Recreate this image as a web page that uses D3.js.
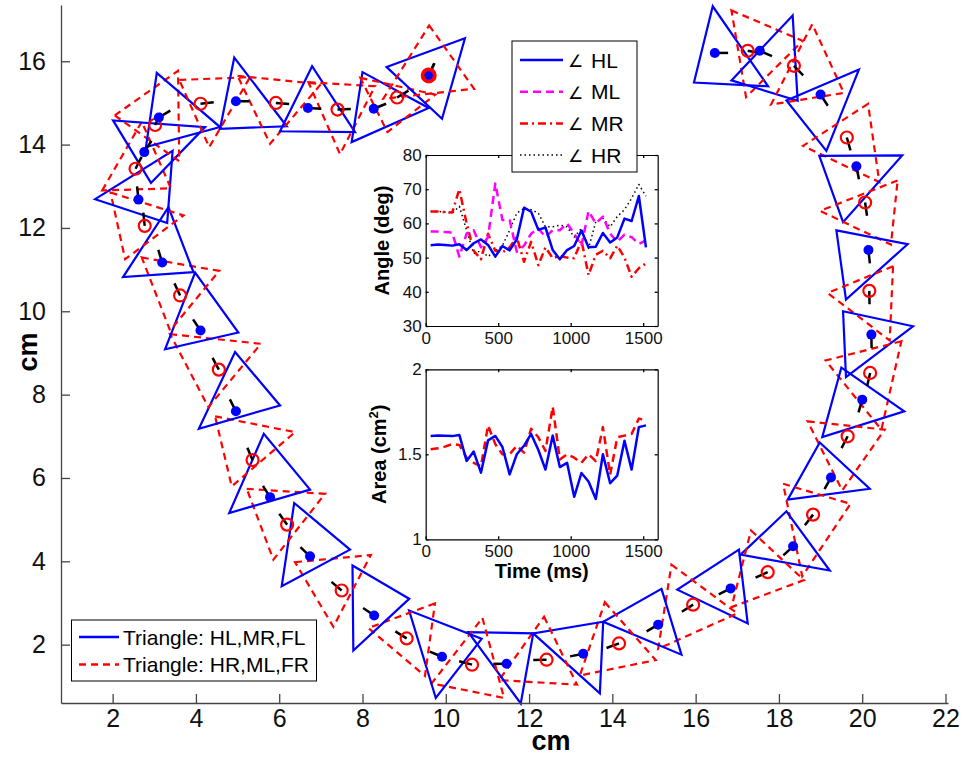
<!DOCTYPE html>
<html><head><meta charset="utf-8">
<script src="https://cdn.jsdelivr.net/npm/d3@7"></script>
<style>
body{margin:0;background:#fff;}
svg{display:block;font-family:"Liberation Sans",Arial,Helvetica,sans-serif;}
</style></head><body>
<svg id="chart" width="966" height="757"></svg>
<script>
// ---------------- DATA ----------------
// Triangle HL,MR,FL (blue) vertices, cm
const blueTriangles = [
 [[16.41,17.32],[15.96,15.49],[17.74,15.40]],
 [[18.33,17.10],[16.86,15.54],[18.45,15.05]],
 [[18.18,15.06],[19.92,15.80],[19.14,13.85]],
 [[18.97,13.73],[20.96,13.74],[19.54,12.14]],
 [[19.38,11.94],[21.09,11.61],[19.61,10.28]],
 [[19.54,10.00],[21.22,9.64],[19.61,8.42]],
 [[19.50,8.65],[21.01,7.60],[19.04,6.98]],
 [[18.98,6.85],[20.18,5.74],[18.21,5.48]],
 [[18.18,5.20],[19.22,3.78],[17.08,4.16]],
 [[17.04,4.28],[17.25,2.51],[15.56,3.32]],
 [[15.18,3.34],[15.66,1.76],[13.78,2.55]],
 [[13.78,2.55],[13.70,0.83],[12.10,2.27]],
 [[12.10,2.27],[11.80,0.59],[10.54,2.30]],
 [[10.86,2.14],[9.76,0.72],[9.12,2.82]],
 [[9.12,3.10],[7.78,1.86],[7.76,3.90]],
 [[7.70,4.28],[6.06,3.40],[6.36,5.40]],
 [[6.74,5.72],[4.80,5.16],[5.63,7.06]],
 [[6.02,7.74],[4.07,7.18],[4.94,9.02]],
 [[5.02,9.49],[3.26,9.09],[3.98,10.93]],
 [[3.94,10.94],[2.25,10.82],[3.34,12.50]],
 [[3.31,12.12],[1.58,12.69],[3.44,13.85]],
 [[2.92,13.08],[2.01,14.58],[4.22,14.42]],
 [[2.80,13.94],[3.06,15.72],[4.58,14.42]],
 [[4.58,14.38],[4.92,16.09],[6.18,14.44]],
 [[6.02,14.32],[6.79,15.88],[7.82,14.30]],
 [[7.74,14.06],[8.00,15.74],[9.59,14.88]],
 [[8.58,15.86],[10.46,16.55],[9.91,14.62]]
];
// Triangle HR,ML,FR (red dashed) vertices, cm
const redTriangles = [
 [[16.86,17.22],[18.57,16.49],[17.21,15.14]],
 [[18.80,16.89],[17.81,14.96],[19.56,15.24]],
 [[20.14,14.98],[18.58,13.97],[20.41,13.10]],
 [[20.85,13.14],[18.99,12.41],[20.69,11.60]],
 [[20.74,11.08],[19.17,10.44],[20.66,9.30]],
 [[20.94,9.28],[19.12,8.82],[20.46,7.16]],
 [[18.69,7.36],[20.54,7.16],[19.52,5.70]],
 [[18.10,5.86],[19.72,5.38],[18.56,3.64]],
 [[17.33,4.74],[18.60,3.55],[16.86,2.90]],
 [[15.42,3.92],[17.00,2.75],[15.10,1.90]],
 [[13.82,3.02],[15.04,1.63],[13.22,1.26]],
 [[12.36,2.67],[13.15,1.04],[11.28,1.15]],
 [[10.88,2.64],[11.40,0.72],[9.66,1.07]],
 [[9.74,2.99],[8.14,2.40],[9.50,1.25]],
 [[6.38,3.98],[8.20,4.15],[7.30,2.43]],
 [[5.22,5.74],[7.10,5.62],[5.86,4.04]],
 [[4.46,7.48],[6.38,7.10],[4.86,5.80]],
 [[3.38,9.45],[5.56,9.22],[4.30,7.70]],
 [[2.70,11.29],[4.56,10.97],[3.38,9.54]],
 [[1.95,12.85],[3.70,12.30],[2.30,11.25]],
 [[1.75,12.90],[2.70,14.55],[3.40,12.95]],
 [[2.05,14.70],[3.57,15.77],[3.60,13.60]],
 [[3.60,15.55],[5.30,15.62],[4.32,13.94]],
 [[5.00,15.65],[7.00,15.45],[5.78,14.02]],
 [[6.70,15.50],[8.30,15.40],[7.46,13.77]],
 [[7.95,15.60],[9.75,15.20],[8.60,14.30]],
 [[9.60,16.86],[10.68,15.34],[8.50,15.10]]
];
const blueCentroids = [[16.46,16.20],[17.54,16.25],[19.00,15.20],[19.86,13.48],[20.15,11.47],[20.22,9.44],[20.00,7.88],[19.25,6.01],[18.34,4.36],[16.84,3.35],[15.10,2.48],[13.30,1.78],[11.46,1.54],[9.91,1.71],[8.28,2.70],[6.74,4.12],[5.78,5.54],[4.96,7.60],[4.11,9.54],[3.19,11.17],[2.62,12.68],[2.76,13.82],[3.11,14.65],[4.96,15.04],[6.69,14.88],[8.27,14.86],[9.59,15.66]];
const blueHeadings = [0,-23,-57,-79,-84,-89,-106,-119,-137,-153,-150,-169,180,157,146,136,122,117,124,107,96,58,31,0,-3,22,65];
const redCentroids = [[17.25,16.25],[18.36,15.89],[19.63,14.17],[20.07,12.61],[20.17,10.49],[20.19,8.52],[19.65,7.00],[18.82,5.12],[17.73,3.74],[15.94,2.96],[14.16,2.03],[12.42,1.64],[10.63,1.52],[9.06,2.15],[7.50,3.30],[6.19,4.88],[5.36,6.43],[4.55,8.60],[3.62,10.38],[2.77,12.05],[2.55,13.42],[3.02,14.47],[4.11,14.98],[5.92,15.00],[7.40,14.84],[8.83,15.13],[9.59,15.66]];
const redHeadings = [-10,-46,-74,-82,-89,-103,-117,-128,-156,-148,-160,-179,165,148,140,126,113,118,115,96,63,64,7,-5,3,31,65];

// Inset series
const timesMs = [34,84,133,183,232,282,331,381,430,480,529,579,628,678,727,777,826,876,925,975,1024,1074,1123,1173,1222,1272,1321,1371,1420,1470,1519];
const angleHL = [53.6,53.8,53.7,53.5,53.9,52.2,54.2,55.3,53.7,50.3,53.4,52.1,55.3,64.6,63.4,58.1,58.8,52.2,49.5,52.2,53.4,57.9,53.0,53.2,57.2,54.4,55.9,61.4,60.7,68.0,53.0];
const angleML = [57.6,57.6,57.5,57.3,50.3,57.0,58.0,53.0,56.0,71.7,61.0,61.0,51.7,53.5,57.0,58.5,56.0,58.0,58.0,60.0,57.0,53.5,63.6,60.0,62.0,57.0,54.6,56.7,56.0,54.0,55.0];
const angleMR = [63.5,63.5,63.3,63.2,70.0,60.0,52.0,49.5,57.0,52.0,51.5,53.0,56.0,48.8,54.6,47.8,53.0,49.8,50.5,50.0,49.8,55.0,44.9,50.8,52.0,49.8,53.5,50.0,44.4,46.9,48.3];
const angleHR = [63.5,63.5,63.3,63.0,65.0,58.0,51.2,52.0,50.3,52.0,53.5,58.0,63.0,64.4,64.0,63.0,59.0,59.0,59.5,59.0,56.0,58.5,52.7,60.5,61.5,59.0,62.0,64.0,67.3,71.4,68.0];
const areaBlue = [1.608,1.610,1.609,1.607,1.614,1.461,1.516,1.392,1.582,1.608,1.543,1.382,1.500,1.550,1.620,1.525,1.410,1.610,1.425,1.450,1.250,1.390,1.340,1.237,1.500,1.330,1.375,1.580,1.410,1.660,1.670];
const areaRed = [1.530,1.535,1.545,1.560,1.555,1.480,1.450,1.430,1.670,1.560,1.500,1.500,1.550,1.510,1.650,1.600,1.520,1.780,1.470,1.500,1.480,1.450,1.500,1.460,1.660,1.380,1.600,1.610,1.620,1.710,1.700];

// Tick labels
const mainXTicks = [2,4,6,8,10,12,14,16,18,20,22];
const mainYTicks = [2,4,6,8,10,12,14,16];
const timeTicks = [0,500,1000,1500];
const angleTicks = [30,40,50,60,70,80];
const areaTicks = [1,1.5,2];

// ---------------- DRAW ----------------
const FONT = '"Liberation Sans",Arial,Helvetica,sans-serif';
const svg = d3.select("#chart");
svg.append("rect").attr("width",966).attr("height",757).attr("fill","#fff");

const x = d3.scaleLinear().domain([0.76,22.06]).range([61,948]);
const y = d3.scaleLinear().domain([0.6,17.35]).range([703,5]);
const triLine = d3.line().x(d=>x(d[0])).y(d=>y(d[1])).curve(d3.curveLinearClosed);

const gTri = svg.append("g");
blueTriangles.forEach((t,i)=>{
  gTri.append("path").attr("d",triLine(t)).attr("fill","none")
    .attr("stroke","#0000ff").attr("stroke-width",2.2).attr("stroke-linejoin","miter");
  gTri.append("path").attr("d",triLine(redTriangles[i])).attr("fill","none")
    .attr("stroke","#ff0000").attr("stroke-width",2.2).attr("stroke-dasharray","7,5");
});

const HEAD_LEN = 0.32;
const gHead = svg.append("g");
function heading(c,deg){
  const r = deg*Math.PI/180;
  gHead.append("line").attr("x1",x(c[0])).attr("y1",y(c[1]))
    .attr("x2",x(c[0]+HEAD_LEN*Math.cos(r))).attr("y2",y(c[1]+HEAD_LEN*Math.sin(r)))
    .attr("stroke","#000").attr("stroke-width",2.5);
}
blueCentroids.forEach((c,i)=>heading(c,blueHeadings[i]));
redCentroids.forEach((c,i)=>heading(c,redHeadings[i]));

const last = redCentroids.length-1;
svg.append("g").selectAll("circle").data(redCentroids).join("circle")
  .attr("cx",d=>x(d[0])).attr("cy",d=>y(d[1]))
  .attr("r",(d,i)=>i===last?6.5:6)
  .attr("fill",(d,i)=>i===last?"#ff0000":"none")
  .attr("stroke","#ff0000").attr("stroke-width",(d,i)=>i===last?3:2.2);
svg.append("g").selectAll("circle").data(blueCentroids).join("circle")
  .attr("cx",d=>x(d[0])).attr("cy",d=>y(d[1]))
  .attr("r",(d,i)=>i===blueCentroids.length-1?4.2:5)
  .attr("fill","#0000ff");

// main axes
function styleAxis(g,size,col){
  g.attr("font-family",FONT).attr("font-size",size);
  g.select(".domain").attr("stroke",col).attr("stroke-width",1.3);
  g.selectAll(".tick line").attr("stroke",col).attr("stroke-width",1.3);
  g.selectAll(".tick text").attr("fill","#111");
}
svg.append("g").attr("transform","translate(0,703)")
  .call(d3.axisBottom(x).tickValues(mainXTicks).tickSizeInner(-9).tickSizeOuter(0).tickPadding(6))
  .call(g=>styleAxis(g,25,"#444"));
svg.append("g").attr("transform","translate(61,0)")
  .call(d3.axisLeft(y).tickValues(mainYTicks).tickSizeInner(-9).tickSizeOuter(0).tickPadding(15))
  .call(g=>styleAxis(g,25,"#444"));
svg.append("text").attr("x",551).attr("y",750).attr("text-anchor","middle")
  .attr("font-family",FONT).attr("font-size",27).attr("font-weight","bold").text("cm");
svg.append("text").attr("transform","translate(37,352) rotate(-90)").attr("text-anchor","middle")
  .attr("font-family",FONT).attr("font-size",27).attr("font-weight","bold").text("cm");

// main legend
const lg2 = svg.append("g");
lg2.append("rect").attr("x",71.5).attr("y",620).attr("width",245).attr("height",61)
  .attr("fill","#fff").attr("stroke","#000").attr("stroke-width",1);
[["Triangle: HL,MR,FL","#0000ff",null],["Triangle: HR,ML,FR","#ff0000","7,5"]].forEach((e,i)=>{
  const yy = 637+i*27.5;
  lg2.append("line").attr("x1",79).attr("x2",119).attr("y1",yy).attr("y2",yy)
    .attr("stroke",e[1]).attr("stroke-width",2.5).attr("stroke-dasharray",e[2]);
  lg2.append("text").attr("x",123).attr("y",yy+7.5).attr("font-family",FONT).attr("font-size",21).text(e[0]);
});

// insets
const tx = d3.scaleLinear().domain([0,1600]).range([425.7,657.7]);
function inset(top,bottom,ydom,yticks,series,ylabelParts,ylabX){
  const ys = d3.scaleLinear().domain(ydom).range([bottom,top]);
  const g = svg.append("g");
  g.append("rect").attr("x",425.7).attr("y",top).attr("width",232).attr("height",bottom-top).attr("fill","#fff");
  const ln = d3.line().x((d,i)=>tx(timesMs[i])).y(d=>ys(d));
  series.forEach(s=>{
    g.append("path").attr("d",ln(s.v)).attr("fill","none").attr("stroke",s.c)
      .attr("stroke-width",s.w).attr("stroke-dasharray",s.dash).attr("stroke-linejoin","round");
  });
  g.append("g").attr("transform",`translate(0,${bottom})`)
    .call(d3.axisBottom(tx).tickValues(timeTicks).tickSizeInner(-3).tickSizeOuter(0).tickPadding(6).tickFormat(d3.format("d")))
    .call(a=>styleAxis(a,17,"#000"));
  g.append("g").attr("transform",`translate(0,${top})`)
    .call(d3.axisTop(tx).tickValues(timeTicks).tickSizeInner(-3).tickSizeOuter(0).tickFormat(""))
    .call(a=>styleAxis(a,17,"#000"));
  g.append("g").attr("transform","translate(425.7,0)")
    .call(d3.axisLeft(ys).tickValues(yticks).tickSizeInner(-3).tickSizeOuter(0).tickPadding(4).tickFormat(d3.format("")))
    .call(a=>styleAxis(a,17,"#000"));
  g.append("g").attr("transform","translate(657.7,0)")
    .call(d3.axisRight(ys).tickValues(yticks).tickSizeInner(-3).tickSizeOuter(0).tickFormat(""))
    .call(a=>styleAxis(a,17,"#000"));
  g.selectAll(".domain").attr("stroke-width",1.2);
  const t = g.append("text").attr("transform",`translate(${ylabX},${(top+bottom)/2}) rotate(-90)`)
    .attr("text-anchor","middle").attr("font-family",FONT).attr("font-size",20).attr("font-weight","bold");
  ylabelParts.forEach(p=>{
    const ts = t.append("tspan").text(p.t);
    if(p.sup){ ts.attr("font-size",13).attr("dy",-8); }
    if(p.after){ ts.attr("dy",8); }
  });
  return g;
}
inset(155,326,[30,80],angleTicks,[
  {v:angleHR,c:"#000",w:1.5,dash:"1.5,3"},
  {v:angleMR,c:"#ff0000",w:2.5,dash:"8,4,2,4"},
  {v:angleML,c:"#ff00ff",w:2.5,dash:"8,5"},
  {v:angleHL,c:"#0000ff",w:2.5,dash:null}
],[{t:"Angle (deg)"}],389);
inset(369.3,539.3,[1,2],areaTicks,[
  {v:areaRed,c:"#ff0000",w:2.5,dash:"8,5"},
  {v:areaBlue,c:"#0000ff",w:2.5,dash:null}
],[{t:"Area (cm"},{t:"2",sup:true},{t:")",after:true}],386);
svg.append("text").attr("x",541.7).attr("y",578).attr("text-anchor","middle")
  .attr("font-family",FONT).attr("font-size",20).attr("font-weight","bold").text("Time (ms)");

// angle legend
const lg1 = svg.append("g");
lg1.append("rect").attr("x",512).attr("y",41).attr("width",125).attr("height",131)
  .attr("fill","#fff").attr("stroke","#000").attr("stroke-width",1);
[["HL","#0000ff",null,2.5],["ML","#ff00ff","8,5",2.5],["MR","#ff0000","8,4,2,4",2.5],["HR","#000","1.5,3",1.5]].forEach((e,i)=>{
  const yy = 60+i*31.7;
  lg1.append("line").attr("x1",520).attr("x2",563).attr("y1",yy).attr("y2",yy)
    .attr("stroke",e[1]).attr("stroke-width",e[3]).attr("stroke-dasharray",e[2]);
  lg1.append("text").attr("x",568).attr("y",yy+7).attr("font-family",'"DejaVu Sans",sans-serif').attr("font-size",17).text("∠");
  lg1.append("text").attr("x",591).attr("y",yy+7.5).attr("font-family",FONT).attr("font-size",21).text(e[0]);
});
</script>
</body></html>
